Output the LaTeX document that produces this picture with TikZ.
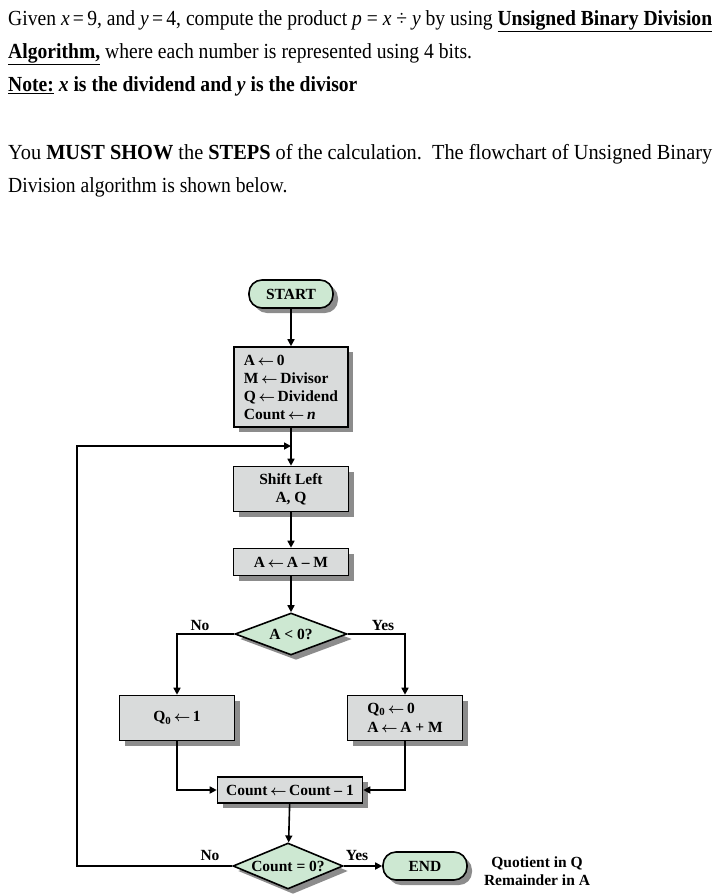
\documentclass[tikz,border=0pt]{standalone}
\usepackage{fontspec}
\setmainfont{Liberation Serif}
\usetikzlibrary{arrows.meta,shapes.geometric,shadows}
\definecolor{boxgray}{HTML}{D9DBDB}
\definecolor{boxgreen}{HTML}{CDE8D2}
\definecolor{shade}{HTML}{8C8C8C}
\newcommand\fcfont{\fontsize{15.5}{18}\selectfont\bfseries\boldmath}
\newcommand\txfont{\fontsize{21.5}{25}\selectfont}
\newcommand\la{\,$\leftarrow$\,}
\newsavebox\lineonebox
\newdimen\lineonewd
\tikzset{
  sh/.style={drop shadow={shadow xshift=5pt,shadow yshift=-5pt,fill=shade,opacity=1}},
  procbox/.style={draw, line width=1.6pt, fill=boxgray, sh, inner sep=0pt, font=\fcfont},
  termbox/.style={draw, line width=1.6pt, fill=boxgreen, rounded corners=13pt, sh,
    minimum width=84pt, minimum height=28pt, inner sep=0pt, font=\fcfont},
  decbox/.style={draw, diamond, aspect=2.6, line width=1.6pt, fill=boxgreen, sh,
    inner sep=0pt, font=\fcfont},
  flow/.style={line width=1.6pt, -{Triangle[length=7pt,width=7pt]}},
  plainline/.style={line width=1.6pt},
  lbl/.style={font=\fcfont, inner sep=0pt},
  txt/.style={anchor=base west, inner sep=0pt, font=\txfont}
}
\begin{document}
\sbox\lineonebox{\txfont Given \textit{x}\,=\,9, and \textit{y}\,=\,4, compute the product \textit{p} = \textit{x} ÷ \textit{y} by using \textbf{\underline{Unsigned Binary Division}}}%
\lineonewd=\wd\lineonebox
\pgfmathsetmacro\hf{704/\lineonewd}%
\begin{tikzpicture}[x=1pt,y=1pt]
\useasboundingbox (0,0) rectangle (717,-894);
% header text
\node[txt] (t1) at (8,-25) {\scalebox{\hf}[1]{\usebox\lineonebox}};
\node[txt] (t2) at (8,-58) {\scalebox{\hf}[1]{\textbf{\underline{Algorithm,}} where each number is represented using 4 bits.}};
\node[txt] (t3) at (8,-91) {\scalebox{\hf}[1]{\textbf{\underline{Note:} \textit{x} is the dividend and \textit{y} is the divisor}}};
\node[txt] (t4) at (8,-159) {\resizebox{704pt}{\height}{You \textbf{MUST SHOW} the \textbf{STEPS} of the calculation.\ \ The flowchart of Unsigned Binary}};
\node[txt] (t5) at (8,-192) {\scalebox{\hf}[1]{Division algorithm is shown below.}};
% flowchart
\node[termbox] (start) at (291,-294) {START};
\node[procbox, minimum width=114pt, minimum height=80pt, align=left] (init) at (291,-387)
  {A\la 0\\M\la Divisor\\Q\la Dividend\\Count\la\textit{n}};
\node[procbox, minimum width=115pt, minimum height=45pt, align=center] (shift) at (291,-489)
  {Shift Left\\A, Q};
\node[procbox, minimum width=115pt, minimum height=27pt] (sub) at (291,-562) {A\la A -- M};
\node[decbox, minimum width=112pt, minimum height=42pt] (dec1) at (291,-634) {A < 0?};
\node[procbox, minimum width=115pt, minimum height=45pt] (q1) at (177,-718) {Q\textsubscript{0}\la 1};
\node[procbox, minimum width=115pt, minimum height=45pt, align=left] (q0) at (405,-718)
  {Q\textsubscript{0}\la 0\\[1pt]A\la A + M};
\node[procbox, minimum width=145pt, minimum height=26pt] (cnt) at (290,-790) {Count\la Count -- 1};
\node[decbox, minimum width=110pt, minimum height=46pt] (dec2) at (288,-866) {Count = 0?};
\node[termbox] (end) at (425,-866) {END};
\node[lbl, align=center] (res) at (537,-871) {Quotient in Q\\Remainder in A};
% labels
\node[lbl] (no1) at (200,-625) {No};
\node[lbl] (yes1) at (383,-625) {Yes};
\node[lbl] (no2) at (210,-855) {No};
\node[lbl] (yes2) at (357,-855) {Yes};
% connectors
\coordinate (loopc) at (77,-446);
\coordinate (join) at (291,-446);
\draw[flow] (start) -- (init);
\draw[flow] (init) -- (shift);
\draw[flow] (shift) -- (sub);
\draw[flow] (sub) -- (dec1);
\draw[flow] (dec1.west) -| (q1.north);
\draw[flow] (dec1.east) -| (q0.north);
\draw[flow] (q1.south) |- (cnt.west);
\draw[flow] (q0.south) |- (cnt.east);
\draw[flow] (cnt) -- (dec2);
\draw[flow] (dec2.east) -- (end.west);
\draw[flow] (dec2.west) -| (loopc) -- (join);
\end{tikzpicture}
\end{document}
